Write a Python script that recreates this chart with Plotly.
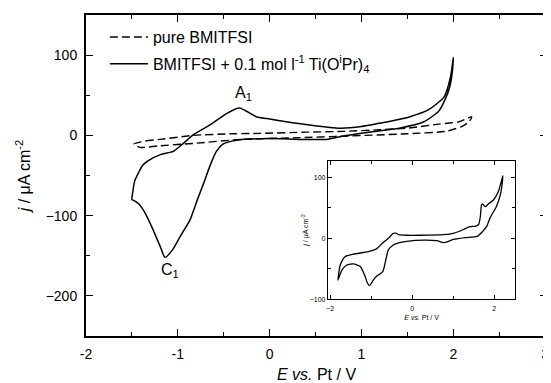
import plotly.graph_objects as go

# ---------------- data ----------------
# solid: BMITFSI + 0.1 mol/l Ti(OiPr)4, closed CV loop (anodic then cathodic)
solid_E = [-1.50, -1.49, -1.47, -1.43, -1.38, -1.33, -1.19, -1.05, -0.94, -0.83, -0.65,
           -0.47, -0.33, -0.14, -0.03, 0.18, 0.43, 0.76, 1.00, 1.19, 1.52, 1.73, 1.90,
           1.97, 2.00,
           1.99, 1.96, 1.90, 1.84, 1.68, 1.41, 1.08, 0.79, 0.62, 0.33, 0.00, -0.36, -0.51,
           -0.58, -0.65, -0.72, -0.79, -0.87, -0.98, -1.06, -1.14, -1.19, -1.28, -1.35,
           -1.43, -1.48, -1.50]
solid_j = [-80, -70, -57, -47, -37, -32, -24, -20, -10, 1, 13,
           27, 34, 23, 21, 17, 13, 9, 11, 15, 23, 32, 48,
           73, 97,
           80, 60, 42, 30, 17, 9, 4, -1, -5, -5, -4, -6, -11,
           -20, -38, -60, -81, -106, -127, -143, -152, -139, -115, -98,
           -85, -81, -80]

# dashed: pure BMITFSI
dashed_E = [-1.48, -1.35, -1.19, -0.83, -0.40, -0.10, 0.40, 0.80, 1.20, 1.50, 1.84,
            2.06, 2.20, 2.17, 2.09, 1.92, 1.50, 0.80, 0.30, -0.30, -0.83, -1.20,
            -1.41, -1.48]
dashed_j = [-11, -7, -5, 0, 2, 2.5, 4, 5, 7, 9, 14,
            17, 23, 17, 11, 5, 2, -1, -3, -5, -10, -13,
            -15, -11]

# inset CV
inset_E = [-1.81, -1.79, -1.76, -1.70, -1.63, -1.43, -1.07, -0.86, -0.74, -0.58, -0.46,
           -0.38, -0.33, -0.13, 0.20, 0.76, 1.00, 1.17, 1.30, 1.41, 1.55, 1.62, 1.66,
           1.69, 1.72, 1.78, 1.85, 1.98, 2.10, 2.15, 2.21,
           2.19, 2.15, 2.05, 1.90, 1.82, 1.70, 1.58, 1.30, 1.00, 0.85, 0.76, 0.60,
           0.30, -0.13, -0.35, -0.46, -0.58, -0.66, -0.71, -0.77, -0.86, -0.94, -1.04,
           -1.10, -1.15, -1.27, -1.43, -1.59, -1.71, -1.81]
inset_j = [-69, -58, -46, -36, -30, -26, -22, -17, -9, 0, 8,
           8, 6, 5, 5, 6, 8, 12, 16, 19, 20, 23, 35,
           55, 56, 52, 56, 63, 77, 88, 103,
           88, 72, 52, 34, 20, 10, 3, 1, -2, -6, -7, -4,
           -3, -5, -8, -11, -19, -41, -54, -58, -62, -68, -78,
           -72, -62, -46, -42, -44, -52, -69]

x_ticks = [-2, -1, 0, 1, 2, 3]
x_labels = ["-2", "-1", "0", "1", "2", "3"]
y_ticks = [-200, -100, 0, 100]
inset_x_ticks = [-2, 0, 2]
inset_y_ticks = [-100, 0, 100]

FONT = "Liberation Sans, Arial, sans-serif"

fig = go.Figure()
fig.add_trace(go.Scatter(x=dashed_E, y=dashed_j, mode="lines", name="pure BMITFSI",
                         line=dict(color="black", width=1.4, dash="8px,4px", shape="spline", smoothing=0.6),
                         legendgroup="a", xaxis="x", yaxis="y"))
fig.add_trace(go.Scatter(x=solid_E, y=solid_j, mode="lines",
                         name="BMITFSI + 0.1 mol l<sup>-1</sup> Ti(O<sup>i</sup>Pr)<sub>4</sub>",
                         line=dict(color="black", width=1.5, shape="spline", smoothing=0.6),
                         legendgroup="b", xaxis="x", yaxis="y"))
fig.add_trace(go.Scatter(x=inset_E, y=inset_j, mode="lines", showlegend=False,
                         line=dict(color="black", width=1.3, shape="spline", smoothing=0.5),
                         xaxis="x2", yaxis="y2"))

axis_common = dict(showline=True, linecolor="black", mirror="ticks", ticks="inside",
                   tickcolor="black", showgrid=False, zeroline=False)

fig.update_layout(
    width=551, height=383,
    margin=dict(l=78, r=12, t=5, b=55),
    paper_bgcolor="white", plot_bgcolor="white",
    font=dict(family=FONT, color="black"),
    showlegend=True,
    legend=dict(x=0.041, y=0.984, xanchor="left", yanchor="top", bgcolor="rgba(0,0,0,0)",
                font=dict(size=16, family=FONT), tracegroupgap=3, itemwidth=38),
    xaxis=dict(domain=[0, 1], range=[-2, 3.02], tickvals=x_ticks, ticktext=x_labels,
               linewidth=2, ticklen=7, tickwidth=1.3, ticklabeloverflow="allow",
               minor=dict(dtick=0.5, ticks="inside", ticklen=4, tickcolor="black", tickwidth=1.3),
               tickfont=dict(size=14), ticklabelstandoff=4,
               title=dict(text="<i>E vs.</i> Pt / V", font=dict(size=16), standoff=8),
               **axis_common),
    yaxis=dict(domain=[0, 1], range=[-250, 150], tickvals=y_ticks, linewidth=2, ticklen=7, tickwidth=1.3,
               minor=dict(dtick=50, ticks="inside", ticklen=4, tickcolor="black", tickwidth=1.3),
               tickfont=dict(size=14), ticklabelstandoff=4,
               title=dict(text="<i>j</i> / μA cm<sup>-2</sup>", font=dict(size=16), standoff=11),
               **axis_common),
    xaxis2=dict(domain=[0.525, 0.931], range=[-2.05, 2.51], anchor="y2", tickvals=inset_x_ticks,
                linewidth=1.3, ticklen=4, tickwidth=1,
                minor=dict(dtick=1, ticks="inside", ticklen=3, tickcolor="black", tickwidth=1),
                tickfont=dict(size=7), ticklabelstandoff=2,
                title=dict(text="<i>E vs.</i> Pt / V", font=dict(size=7), standoff=4),
                **axis_common),
    yaxis2=dict(domain=[0.115, 0.545], range=[-100, 127], anchor="x2", tickvals=inset_y_ticks,
                linewidth=1.3, ticklen=4, tickwidth=1,
                minor=dict(dtick=50, ticks="inside", ticklen=3, tickcolor="black", tickwidth=1),
                tickfont=dict(size=7), ticklabelstandoff=0,
                title=dict(text="<i>j</i> / μA cm<sup>-2</sup>", font=dict(size=7), standoff=0),
                **axis_common),
    annotations=[
        dict(x=-0.29, y=52, xref="x", yref="y", text="A<sub>1</sub>", showarrow=False,
             font=dict(size=16)),
        dict(x=-1.09, y=-168, xref="x", yref="y", text="C<sub>1</sub>", showarrow=False,
             font=dict(size=16)),
    ],
)

fig.write_html("out.html")
